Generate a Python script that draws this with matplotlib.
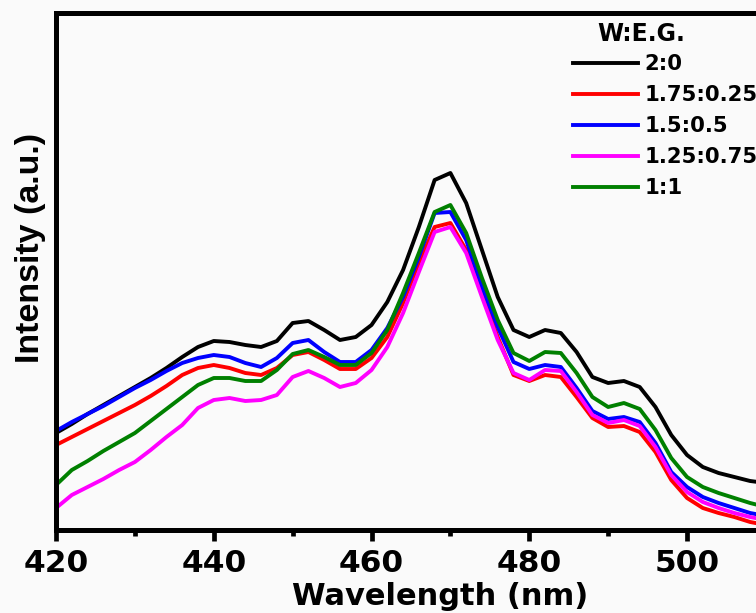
import numpy as np
import matplotlib
matplotlib.use("Agg")
from matplotlib import pyplot as plt
from matplotlib.ticker import MultipleLocator

# wavelength grid (nm), one point every 2 nm
wavelength = np.arange(420, 512, 2)

# PL intensity (a.u.)
i_2_0 = [97, 106, 116, 125, 134, 143, 152, 162, 173, 183, 189, 188, 185, 183, 189, 207,
         209, 200, 190, 193, 205, 228, 260, 303, 350, 357, 327, 280, 233, 200, 193, 200,
         197, 178, 153, 147, 149, 143, 123, 95, 75, 63, 57, 53, 49, 47]
i_175_025 = [85, 93, 101, 109, 117, 125, 134, 144, 155, 162, 165, 162, 157, 155, 162, 175,
             178, 170, 161, 161, 172, 193, 227, 267, 303, 307, 280, 237, 193, 155, 149, 155,
             153, 133, 112, 103, 104, 98, 78, 50, 32, 22, 17, 13, 8, 5]
i_15_05 = [99, 108, 116, 124, 133, 142, 150, 159, 167, 172, 175, 173, 167, 163, 172, 187,
           190, 178, 168, 168, 180, 202, 233, 273, 317, 318, 290, 243, 203, 168, 161, 165,
           163, 142, 119, 111, 113, 108, 87, 58, 43, 33, 27, 22, 17, 14]
i_125_075 = [22, 35, 43, 51, 60, 68, 80, 93, 105, 122, 130, 132, 129, 130, 135, 153,
             159, 152, 143, 147, 160, 183, 217, 258, 298, 303, 277, 233, 190, 157, 150, 160,
             159, 138, 115, 107, 110, 104, 83, 55, 38, 28, 22, 17, 13, 10]
i_1_1 = [45, 60, 69, 79, 88, 97, 109, 121, 133, 145, 152, 152, 149, 149, 160, 176,
         180, 173, 165, 165, 177, 200, 237, 277, 318, 325, 297, 252, 210, 177, 169, 178,
         177, 157, 133, 123, 127, 121, 100, 72, 53, 43, 37, 32, 27, 23]

labels = ["2:0", "1.75:0.25", "1.5:0.5", "1.25:0.75", "1:1"]
colors = ["black", "#ff0000", "#0000ff", "#ff00ff", "#008000"]
series = [i_2_0, i_175_025, i_15_05, i_125_075, i_1_1]

bg = "#fafafa"
fig = plt.figure(figsize=(7.56, 6.13), dpi=100, facecolor=bg)
# the original picture is cropped on the right, so the axes run past the edge
ax = fig.add_axes([0.0741, 0.1354, 0.939, 0.8442], facecolor=bg)

for y, lab, c in zip(series, labels, colors):
    ax.plot(wavelength, y, color=c, lw=2.8, label=lab)

ax.set_xlim(420, 510)
ax.set_ylim(0, 517.5)

for s in ax.spines.values():
    s.set_linewidth(3.6)

ax.xaxis.set_major_locator(MultipleLocator(20))
ax.xaxis.set_minor_locator(MultipleLocator(10))
ax.tick_params(axis="x", which="major", direction="out", length=8, width=3.4, pad=6,
               labelsize=22.5)
ax.tick_params(axis="x", which="minor", direction="out", length=4, width=3.4)
ax.tick_params(axis="y", left=False, labelleft=False)
for t in ax.get_xticklabels():
    t.set_fontweight("bold")
    t.set_family("DejaVu Sans")

ax.set_xlabel("Wavelength (nm)", fontsize=22, fontweight="bold", family="DejaVu Sans")
ax.xaxis.set_label_coords(0.541, -0.1005)
ax.set_ylabel("Intensity (a.u.)", fontsize=24.5, fontweight="bold",
              family="Liberation Sans", va="center")
ax.yaxis.set_label_coords(-0.0366, 0.545)

leg = ax.legend(loc="upper left", bbox_to_anchor=(573 / 756, 1 - 54 / 613),
                bbox_transform=fig.transFigure, frameon=False, borderpad=0,
                borderaxespad=0, handlelength=3.05, handletextpad=0.3,
                labelspacing=0.52, prop={"family": "DejaVu Sans", "weight": "bold",
                                         "size": 15.3})
for h in leg.get_lines():
    h.set_linewidth(2.8)
fig.text(641 / 756, 1 - 34 / 613, "W:E.G.", ha="center", va="center",
         fontsize=17, fontweight="bold", family="DejaVu Sans")

fig.savefig("out.png", dpi=100, facecolor=bg)
